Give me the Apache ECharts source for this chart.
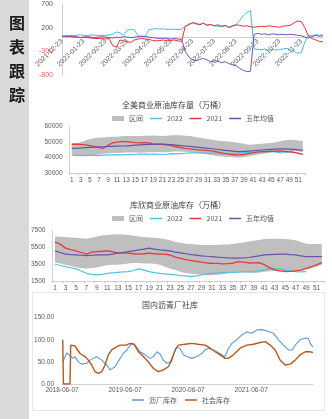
<!DOCTYPE html>
<html>
<head>
<meta charset="utf-8">
<script src="https://cdn.jsdelivr.net/npm/echarts@6/dist/echarts.min.js"></script>
<style>
  html, body { margin: 0; padding: 0; background: #fff; }
  #main { width: 332px; height: 419px; }
</style>
</head>
<body>
<div id="main"></div>
<script>
// ---- 图1 价差 ----
var spreadMonths = ['2021-12-23', '2022-01-23', '2022-02-23', '2022-03-23', '2022-04-23', '2022-05-23',
  '2022-06-23', '2022-07-23', '2022-08-23', '2022-09-23', '2022-10-23', '2022-11-23', '2022-12-23'];
var spreadNames = ['2020-11', '2021-10', '2019-09'];
var spreadCyan = [20, 30, 40, 30, 40, 50, 40, 30, 50, 40, 30, 40, 30, 50, 60,
  110, 90, 40, 150, 160, 150, 30, 10, 20, 160, 170, 180, 170, 175, 160, 170, 165, 160, 170,
  230, 280, 290, 300, 270, 290, 250, 260, 240, 230, 220, 240, 200, 220, 260, 350, 450, 520, 560,
  -250, -260, -270, -250, -280, -260, -270, -260, -250, -240, -260, -300, -340, -330, -100, 40, 30, 50, 40, 50];
var spreadRed = [10, 20, 10, 20, 0, -10, 0, -10, -20, -30, -30, -30, -40, -30, -180,
  -210, -60, -80, -100, -110, -60, -40, -30, -40, -50, -70, -80, -70, -60, -80, -70, -60, -80, -90,
  230, 260, 310, 280, 260, 300, 250, 270, 240, 260, 230, 250, 210, 240, 260, 250, 230, 240, 220,
  210, 220, 230, 220, 240, 230, 220, 210, 230, 240, 250, 300, 340, 330, 200, 20, -30, -60, -90, -100];
var spreadPurple = [20, 10, 20, 0, 10, -10, 0, 10, 0, -10, 0, 10, 0, -10, -20,
  0, -10, 10, 0, -10, 0, 10, 20, 10, 0, -10, -20, -30, -20, -30, -40, -30, -40, -50,
  -300, -420, -480, -500, -470, -450, -480, -520, -500, -510, -540, -520, -560, -580, -600, -660, -700, -730, -720,
  60, 80, 60, 70, 50, 70, 60, 50, 60, 50, 60, 50, 40, 30, 0, -20, 10, 40, 20, 30];
var spreadTicks = [-800, -300, 200, 700];

// ---- 周度 ----
var weeks = ['1', '2', '3', '4', '5', '6', '7', '8', '9', '10', '11', '12', '13', '14', '15', '16', '17', '18',
  '19', '20', '21', '22', '23', '24', '25', '26', '27', '28', '29', '30', '31', '32', '33', '34', '35', '36',
  '37', '38', '39', '40', '41', '42', '43', '44', '45', '46', '47', '48', '49', '50', '51', '52'];

// 全美商业原油库存量（万桶）
var usHigh = [49500, 49500, 50000, 51000, 52000, 52500, 53000, 53000, 53300, 53500, 53500, 53800, 54000,
  54000, 54000, 54000, 54200, 54200, 54300, 54200, 54000, 54200, 54500, 54500, 54400, 54200, 54000,
  53500, 53000, 52500, 52000, 51500, 51000, 50800, 50500, 50300, 50000, 49500, 49000, 48300, 48500,
  48800, 49000, 49200, 49500, 50000, 50500, 51200, 51500, 51500, 51000, 50800];
var usLow = [41800, 41500, 41200, 41000, 41000, 41500, 42000, 42500, 42800, 43000, 43000, 43200, 43300,
  43300, 43300, 43200, 43300, 43500, 43500, 43600, 43500, 43500, 43800, 44000, 44000, 43800, 43500,
  43300, 43000, 42500, 42000, 41500, 41000, 40700, 40500, 40300, 40000, 40000, 40300, 40800, 41300,
  41800, 42300, 42800, 43200, 43500, 43800, 44000, 44200, 44300, 44000, 43800];
var us2022 = [41500, 41400, 41300, 41200, 41500, 41400, 41300, 41600, 41800, 41700, 41900, 41800, 42000,
  41900, 42000, 42200, 42300, 42100, 42300, 42200, 42000, 42100, 42500, 42400, 42600, 42800, 43000,
  43100, 43100, 43000, 42800, 42900, 42700, 42400, 42300, 42500, 42800, 43000, 43300, 43400, 43500,
  43600, 43700, 44000, 44300, 43700, 43000, 43300, 43700, 44200];
var us2021 = [48600, 48700, 48500, 48200, 47800, 47200, 46500, 46000, 48000, 49500, 50000, 50300, 50300,
  50000, 49700, 49500, 49600, 49500, 48800, 48500, 48600, 48300, 47700, 47000, 46500, 46000, 45600,
  45300, 45000, 44800, 44500, 44300, 43700, 43000, 42500, 42100, 41800, 41700, 42000, 42500, 43000,
  43500, 43800, 43900, 44000, 44100, 44300, 44000, 43700, 43400, 42800, 42100];
var usAvg5 = [46000, 46000, 46200, 46400, 46600, 46800, 46900, 47000, 47200, 47300, 47400, 47500, 47600,
  47800, 48000, 48200, 48400, 48500, 48600, 48700, 48700, 48600, 48400, 48100, 47800, 47500, 47200,
  46900, 46600, 46300, 46000, 45700, 45400, 45000, 44600, 44300, 44000, 43900, 44000, 44200, 44400,
  44600, 44900, 45100, 45300, 45500, 45600, 45600, 45500, 45300, 45000, 44600];

// 库欣商业原油库存（万桶）
var cushHigh = [6800, 6780, 6750, 6700, 6650, 6600, 6550, 6650, 6800, 6950, 7000, 7050, 7080, 7050, 7000,
  6900, 6800, 6750, 6700, 6650, 6600, 6500, 6350, 6150, 6050, 5950, 5900, 5850, 5800, 5800, 5800, 5800,
  5850, 5850, 5900, 6000, 6100, 6200, 6300, 6400, 6500, 6550, 6550, 6550, 6500, 6450, 6350, 6150, 5950,
  5900, 5900, 5900];
var cushLow = [3700, 3600, 3450, 3300, 3150, 3050, 3000, 3050, 3100, 3250, 3400, 3450, 3450, 3500, 3600,
  3650, 3650, 3600, 3600, 3550, 3450, 3200, 2950, 2800, 2600, 2450, 2350, 2300, 2250, 2200, 2200, 2250,
  2300, 2400, 2500, 2550, 2550, 2500, 2450, 2500, 2600, 2650, 2700, 2700, 2650, 2600, 2600, 2700, 2800,
  3000, 3200, 3400];
var cush2022 = [3500, 3350, 3210, 3080, 2940, 2700, 2420, 2300, 2220, 2300, 2420, 2480, 2540, 2580, 2610,
  2750, 2940, 2800, 2610, 2500, 2420, 2350, 2300, 2220, 2150, 2100, 2020, 2100, 2220, 2320, 2420, 2450,
  2500, 2520, 2540, 2560, 2580, 2600, 2610, 2700, 2820, 2950, 3020, 2920, 2820, 2700, 2610, 2600, 2610];
var cush2021 = [6140, 5900, 5420, 5250, 5100, 4900, 4700, 4940, 5010, 5050, 5100, 5000, 4820, 4850, 4820,
  4750, 4700, 4750, 4820, 4750, 4700, 4700, 4600, 4350, 4200, 4050, 3950, 3850, 3750, 3650, 3620, 3600,
  3550, 3580, 3620, 3800, 3750, 3650, 3660, 3700, 3450, 3100, 2820, 2700, 2620, 2650, 2700, 2800, 3020,
  3200, 3420, 3690];
var cushAvg5 = [5090, 4900, 4700, 4650, 4610, 4570, 4530, 4570, 4610, 4610, 4620, 4700, 4820, 4900, 5010,
  5100, 5210, 5300, 5420, 5300, 5210, 5150, 5090, 4940, 4850, 4750, 4650, 4580, 4500, 4450, 4410, 4350,
  4300, 4250, 4220, 4220, 4250, 4300, 4400, 4500, 4610, 4650, 4680, 4700, 4700, 4650, 4610, 4500, 4410,
  4410, 4420, 4410];
var cushTicks = [1500, 3500, 5500, 7500];

// 国内沥青厂社库（横轴：自2018-06-07起的周数）
var plantWeeks = [0.6, 3.9, 6.0, 7.2, 8.8, 10.7, 13.5, 16.3, 20.4, 23.1, 25.8, 28.6, 32.8, 36.9, 39.6,
  43.7, 47.9, 50.6, 53.4, 57.5, 60.3, 64.4, 68.5, 72.6, 75.4, 78.2, 80.9, 83.6, 86.4, 89.1, 91.9, 94.7,
  97.4, 100.1, 102.9, 107.1, 111.2, 115.3, 118.0, 120.8, 123.8, 127.7, 131.8, 134.5, 137.3, 140.1, 144.2,
  148.3, 152.4, 156.6, 160.7, 164.8, 169.2, 174.4, 178.5, 182.7, 186.8, 189.8, 192.3, 196.4, 200.6, 203.3,
  204.7, 206.9];
var plantStock = [50, 70, 66, 70, 58, 62, 50, 45, 47, 54, 58, 62, 54, 43, 32, 39, 58, 69, 77, 92, 88, 73,
  66, 58, 62, 73, 68, 54, 47, 50, 66, 84, 80, 66, 62, 58, 62, 69, 77, 81, 78, 73, 66, 62, 81, 92, 100,
  111, 118, 115, 122, 123, 120, 115, 100, 88, 77, 77, 88, 100, 104, 103, 92, 84];
var socialWeeks = [0.6, 1.2, 6.6, 7.2, 10.7, 14.9, 19.0, 21.7, 24.5, 27.2, 30.0, 32.8, 35.5, 38.2, 41.0,
  45.1, 47.9, 52.8, 56.1, 59.4, 63.0, 67.1, 71.2, 75.4, 79.5, 83.6, 87.7, 90.5, 93.3, 96.0, 101.5, 107.1,
  112.3, 118.0, 122.2, 126.3, 130.4, 134.5, 137.0, 141.4, 146.9, 152.4, 157.9, 163.4, 167.6, 171.7, 175.8,
  179.9, 184.1, 188.2, 192.3, 196.4, 200.6, 204.7, 206.9];
var socialStock = [100, 0, 0, 88, 86, 69, 62, 54, 43, 28, 24, 28, 43, 66, 77, 84, 88, 88, 92, 90, 73, 62,
  50, 35, 28, 32, 39, 54, 77, 88, 90, 92, 90, 88, 81, 73, 66, 58, 58, 66, 81, 88, 90, 94, 96, 88, 77, 54,
  43, 45, 54, 66, 73, 73, 71];
var asphaltTicks = [0, 52, 104, 156];

var labelColor = '#595959';
var lineAxis = { show: true, lineStyle: { color: '#d0d0d0', width: 1 } };
var lineIcon = 'path://M0,0 L16,0 L16,2 L0,2 Z';
var cyan = '#4fc3e3', red = '#e23b3b', purple = '#6f4fa8', gray = '#bfbfbf';

// 价差的类目：每月6个点
var spreadCats = [];
for (var m = 0; m < 12; m++) {
  for (var k = 0; k < 6; k++) spreadCats.push(spreadMonths[m] + (k ? '#' + k : ''));
}
spreadCats.push(spreadMonths[12]);

function pairs(xs, ys) {
  return xs.map(function (x, i) { return [x, ys[i]]; });
}
function diff(hi, lo) {
  return hi.map(function (v, i) { return v - lo[i]; });
}
function plain(v) { return String(v); }
function titleAt(text, x, top) {
  return { text: text, left: x, top: top, textAlign: 'center', padding: 0,
    textStyle: { fontSize: 8, fontWeight: 'normal', color: '#404040', fontFamily: 'Noto Sans CJK SC' } };
}
function weekLegend(top) {
  return {
    top: top, left: 112, padding: 0, itemWidth: 12, itemHeight: 5, itemGap: 7,
    textStyle: { fontSize: 7, color: labelColor, fontFamily: 'Noto Sans CJK SC' },
    data: [{ name: '区间', icon: 'rect' }, { name: '2022', icon: lineIcon },
      { name: '2021', icon: lineIcon }, { name: '五年均值', icon: lineIcon }]
  };
}
function weekSeries(idx, lo, hi, y22, y21, avg) {
  var base = { type: 'line', xAxisIndex: idx, yAxisIndex: idx, symbol: 'none', showSymbol: false };
  return [
    Object.assign({}, base, { name: 'low' + idx, stack: 'band' + idx, data: lo,
      lineStyle: { opacity: 0 }, silent: true }),
    Object.assign({}, base, { name: '区间', stack: 'band' + idx, data: diff(hi, lo), color: gray,
      lineStyle: { width: 0 }, areaStyle: { color: gray, opacity: 1 } }),
    Object.assign({}, base, { name: '2022', data: y22, color: cyan, lineStyle: { width: 1.2, color: cyan } }),
    Object.assign({}, base, { name: '2021', data: y21, color: red, lineStyle: { width: 1.3, color: red } }),
    Object.assign({}, base, { name: '五年均值', data: avg, color: purple, lineStyle: { width: 1.2, color: purple } })
  ];
}
function weekX(idx) {
  return {
    type: 'category', gridIndex: idx, data: weeks, boundaryGap: true,
    axisLine: lineAxis, axisTick: { show: true, length: 2, lineStyle: { color: '#c8c8c8' } },
    axisLabel: { interval: 1, fontSize: 6.5, color: labelColor, margin: 4, fontFamily: 'Liberation Sans' }
  };
}

var chart = echarts.init(document.getElementById('main'));
chart.setOption({
  animation: false,
  backgroundColor: '#fff',
  graphic: [
    { type: 'rect', left: 0, top: 0, shape: { width: 29, height: 419 }, style: { fill: '#d9d9d9' } },
    { type: 'rect', left: 30, top: 290, shape: { width: 292, height: 118 },
      style: { fill: 'none', stroke: '#e6e6e6', lineWidth: 1 } },
    { type: 'text', x: 17, y: 23, style: { text: '图', fill: '#1a1a1a',
      font: 'bold 16px "Noto Sans CJK SC"', align: 'center', verticalAlign: 'middle' } },
    { type: 'text', x: 17, y: 47, style: { text: '表', fill: '#1a1a1a',
      font: 'bold 16px "Noto Sans CJK SC"', align: 'center', verticalAlign: 'middle' } },
    { type: 'text', x: 17, y: 71, style: { text: '跟', fill: '#1a1a1a',
      font: 'bold 16px "Noto Sans CJK SC"', align: 'center', verticalAlign: 'middle' } },
    { type: 'text', x: 17, y: 95, style: { text: '踪', fill: '#1a1a1a',
      font: 'bold 16px "Noto Sans CJK SC"', align: 'center', verticalAlign: 'middle' } }
  ],
  title: [
    titleAt('全美商业原油库存量（万桶）', 174, 100.5),
    titleAt('库欣商业原油库存（万桶）', 178, 200.5),
    titleAt('国内沥青厂社库', 170, 300.5)
  ],
  legend: [
    { top: -7, left: 118, padding: 0, itemWidth: 12, itemHeight: 5, itemGap: 12,
      textStyle: { fontSize: 7, color: labelColor, fontFamily: 'Liberation Sans' },
      data: spreadNames.map(function (n) { return { name: n, icon: lineIcon }; }) },
    weekLegend(115),
    weekLegend(215),
    { top: 396.5, left: 132, padding: 0, itemWidth: 12, itemHeight: 5, itemGap: 8,
      textStyle: { fontSize: 7, color: labelColor, fontFamily: 'Noto Sans CJK SC' },
      data: [{ name: '沥厂库存', icon: lineIcon }, { name: '社会库存', icon: lineIcon }] }
  ],
  grid: [
    { left: 62, top: 4, width: 261, height: 71, outerBoundsMode: 'none' },
    { left: 69.5, top: 126.7, width: 235.6, height: 46.3, outerBoundsMode: 'none' },
    { left: 52.4, top: 230.7, width: 272, height: 50.3, outerBoundsMode: 'none' },
    { left: 62, top: 317.7, width: 251, height: 66.3, outerBoundsMode: 'none' }
  ],
  xAxis: [
    // 轴线和标签都放在零值处
    { type: 'category', gridIndex: 0, data: spreadCats, boundaryGap: false, offset: -37.9,
      axisLine: { show: true, onZero: false, lineStyle: { color: '#d0d0d0' } }, axisTick: { show: false },
      axisLabel: { rotate: 45, fontSize: 7, color: labelColor, margin: 3, fontFamily: 'Liberation Sans',
        interval: function (i) { return i % 6 === 0 && i < 72; },
        formatter: function (v) { return v.split('#')[0]; } } },
    weekX(1),
    weekX(2),
    { type: 'value', gridIndex: 3, min: 0, max: 207,
      axisLine: lineAxis, axisTick: { show: false }, splitLine: { show: false },
      axisLabel: { customValues: asphaltTicks, fontSize: 6.5, color: labelColor, margin: 3,
        fontFamily: 'Liberation Sans',
        formatter: function (v) { return (2018 + Math.round(v / 52)) + '-06-07'; } } }
  ],
  yAxis: [
    { type: 'value', gridIndex: 0, min: -800, max: 700, splitLine: { show: false },
      axisLine: lineAxis, axisTick: { show: false },
      axisLabel: { customValues: spreadTicks, margin: 9, fontFamily: 'Liberation Sans',
        formatter: function (v) { return v < 0 ? '{n|' + v + '}' : '{p|' + v + '}'; },
        rich: { n: { color: '#ff5a5a', fontSize: 7 }, p: { color: labelColor, fontSize: 7 } } } },
    { type: 'value', gridIndex: 1, min: 30000, max: 60000, interval: 10000, splitLine: { show: false },
      axisLine: lineAxis, axisTick: { show: false },
      axisLabel: { fontSize: 6.5, color: labelColor, margin: 7, fontFamily: 'Liberation Sans', formatter: plain } },
    { type: 'value', gridIndex: 2, min: 1500, max: 7500, splitLine: { show: false },
      axisLine: lineAxis, axisTick: { show: false },
      axisLabel: { customValues: cushTicks, fontSize: 6.5, color: labelColor, margin: 7,
        fontFamily: 'Liberation Sans', formatter: plain } },
    { type: 'value', gridIndex: 3, min: 0, max: 150, interval: 50, splitLine: { show: false },
      axisLine: { show: false }, axisTick: { show: false },
      axisLabel: { fontSize: 6.5, color: labelColor, margin: 8, fontFamily: 'Liberation Sans',
        formatter: function (v) { return v.toFixed(2); } } }
  ],
  series: [
    { name: spreadNames[0], type: 'line', xAxisIndex: 0, yAxisIndex: 0, data: spreadCyan, symbol: 'none',
      color: '#3fbfe0', lineStyle: { width: 1, color: '#3fbfe0' } },
    { name: spreadNames[1], type: 'line', xAxisIndex: 0, yAxisIndex: 0, data: spreadRed, symbol: 'none',
      color: '#e8303a', lineStyle: { width: 1, color: '#e8303a' } },
    { name: spreadNames[2], type: 'line', xAxisIndex: 0, yAxisIndex: 0, data: spreadPurple, symbol: 'none',
      color: '#7b4fb5', lineStyle: { width: 1, color: '#7b4fb5' } }
  ].concat(
    weekSeries(1, usLow, usHigh, us2022, us2021, usAvg5),
    weekSeries(2, cushLow, cushHigh, cush2022, cush2021, cushAvg5),
    [
      { name: '沥厂库存', type: 'line', xAxisIndex: 3, yAxisIndex: 3, data: pairs(plantWeeks, plantStock),
        symbol: 'none', color: '#5b9bd5', lineStyle: { width: 1.1, color: '#5b9bd5' } },
      { name: '社会库存', type: 'line', xAxisIndex: 3, yAxisIndex: 3, data: pairs(socialWeeks, socialStock),
        symbol: 'none', color: '#b35a1e', lineStyle: { width: 1.4, color: '#b35a1e' } }
    ]
  )
});
</script>
</body>
</html>
